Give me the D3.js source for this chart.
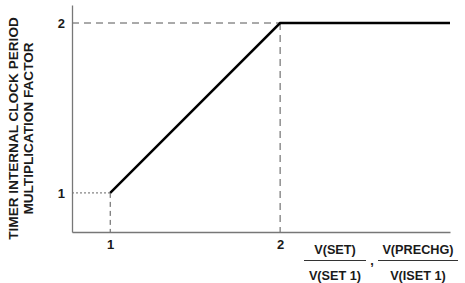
<!DOCTYPE html>
<html>
<head>
<meta charset="utf-8">
<script src="https://cdn.jsdelivr.net/npm/d3@7"></script>
<style>
  body { margin: 0; background: #fff; }
  text { font-family: "Liberation Sans", Arial, sans-serif; font-weight: bold; fill: #1a1a1a; }
</style>
</head>
<body>
<div id="chart"></div>
<script>
/* DATA */
const xTicks = [1, 2];
const yTicks = [1, 2];
const curveX = [1, 2, 3];
const curveY = [1, 2, 2];
const yTitle = ["TIMER INTERNAL CLOCK PERIOD", "MULTIPLICATION FACTOR"];
const xLabelTop = ["V(SET)", "V(PRECHG)"];
const xLabelBottom = ["V(SET 1)", "V(ISET 1)"];

const width = 465, height = 283;

const svg = d3.select("#chart").append("svg")
  .attr("width", width)
  .attr("height", height);

// scales
const xScale = d3.scaleLinear().domain([0.775, 3]).range([72, 450]);
const yScale = d3.scaleLinear().domain([0.77, 2.106]).range([232, 5]);

// guide lines
svg.append("line")
  .attr("x1", xScale.range()[0]).attr("x2", xScale(2))
  .attr("y1", yScale(2)).attr("y2", yScale(2))
  .attr("stroke", "#555").attr("stroke-width", 1)
  .attr("stroke-dasharray", "7,5");

svg.append("line")
  .attr("x1", xScale(2)).attr("x2", xScale(2))
  .attr("y1", yScale(2)).attr("y2", yScale.range()[0])
  .attr("stroke", "#555").attr("stroke-width", 1)
  .attr("stroke-dasharray", "7,5");

svg.append("line")
  .attr("x1", xScale(1)).attr("x2", xScale(1))
  .attr("y1", yScale(1)).attr("y2", yScale.range()[0])
  .attr("stroke", "#555").attr("stroke-width", 1)
  .attr("stroke-dasharray", "5,4");

// dotted at y = 1
svg.append("line")
  .attr("x1", xScale.range()[0]).attr("x2", xScale(1))
  .attr("y1", yScale(1)).attr("y2", yScale(1))
  .attr("stroke", "#666").attr("stroke-width", 1)
  .attr("stroke-dasharray", "2,2");

// axes
const xAxis = d3.axisBottom(xScale).tickValues(xTicks).tickSize(0).tickPadding(8).tickFormat(d3.format("d"));
const yAxis = d3.axisLeft(yScale).tickValues(yTicks).tickSize(0).tickPadding(7).tickFormat(d3.format("d"));

const gx = svg.append("g")
  .attr("transform", `translate(0,${yScale.range()[0]})`)
  .call(xAxis);
const gy = svg.append("g")
  .attr("transform", `translate(${xScale.range()[0]},0)`)
  .call(yAxis);

[gx, gy].forEach(g => {
  g.select(".domain").attr("stroke", "#777").attr("stroke-width", 1.3);
  g.selectAll(".tick text")
    .attr("font-size", 13)
    .attr("font-weight", "bold")
    .attr("font-family", "Liberation Sans, Arial, sans-serif")
    .attr("fill", "#1a1a1a");
});

// curve
const line = d3.line()
  .x((d, i) => xScale(curveX[i]))
  .y(d => yScale(d));

svg.append("path")
  .datum(curveY)
  .attr("d", line)
  .attr("fill", "none")
  .attr("stroke", "#000")
  .attr("stroke-width", 2.5);

// y title
const yt = svg.append("text")
  .attr("transform", "translate(13,128.5) rotate(-90)")
  .attr("text-anchor", "middle")
  .attr("font-size", 13.6);
yt.selectAll("tspan")
  .data(yTitle)
  .join("tspan")
  .attr("x", 0)
  .attr("dy", (d, i) => i === 0 ? "0.35em" : "1.15em")
  .text(d => d);

// x label fractions
const fracCenters = [335, 418];
const fracWidths = [62, 80];
fracCenters.forEach((cx, i) => {
  svg.append("text")
    .attr("x", cx).attr("y", 254)
    .attr("text-anchor", "middle")
    .attr("font-size", 12.7)
    .text(xLabelTop[i]);
  svg.append("line")
    .attr("x1", cx - fracWidths[i] / 2).attr("x2", cx + fracWidths[i] / 2)
    .attr("y1", 260.5).attr("y2", 260.5)
    .attr("stroke", "#333").attr("stroke-width", 1);
  svg.append("text")
    .attr("x", cx).attr("y", 280)
    .attr("text-anchor", "middle")
    .attr("font-size", 12.7)
    .text(xLabelBottom[i]);
});
svg.append("text")
  .attr("x", 372).attr("y", 265)
  .attr("text-anchor", "middle")
  .attr("font-size", 12.7)
  .text(",");
</script>
</body>
</html>
